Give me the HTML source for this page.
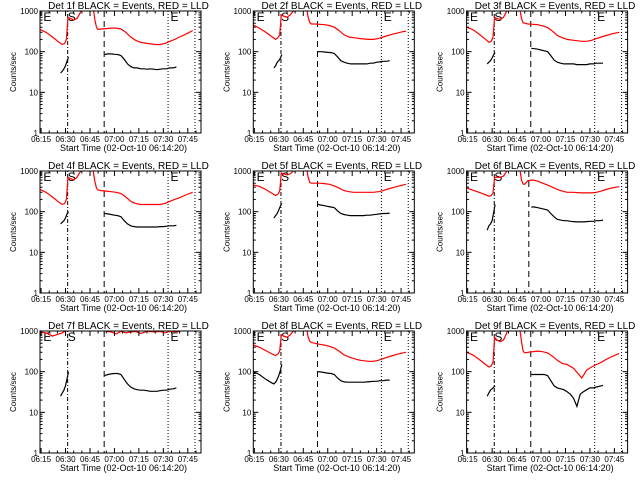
<!DOCTYPE html>
<html><head><meta charset="utf-8">
<style>
html,body{margin:0;padding:0;background:#fff;}
svg{display:block;font-family:"Liberation Sans",sans-serif;}
</style></head>
<body>
<svg id="chart" width="640" height="480" viewBox="0 0 640 480"></svg>
<script>
// time in minutes after 06:00
const detectorNames = ["1f","2f","3f","4f","5f","6f","7f","8f","9f"];
const redTimes1 = [14.4,18,22,26,28,29.5,30.5,31.5,33,35,37,39,41,46,47,48,49,50,52,55,58,61,64,67,70,73,76,80,85,88,91,94,97,100,103,106,108];
const redVals = [
 [350,300,230,170,150,160,200,700,650,600,650,900,3000,3000,1200,600,400,350,360,370,380,380,360,300,230,190,170,160,150,150,160,180,200,230,260,300,330],
 [450,380,300,230,200,220,260,800,750,700,800,1000,3000,3000,1200,700,520,480,480,470,460,440,400,330,260,230,220,210,200,200,210,230,250,270,290,310,320],
 [400,350,270,200,170,180,230,700,650,620,700,1000,3000,3000,1100,650,520,500,480,470,460,430,390,320,250,220,200,190,180,180,190,210,230,250,270,290,300],
 [350,300,230,170,150,160,200,700,650,600,700,950,3000,3000,1000,550,380,340,330,320,310,300,280,230,180,160,150,150,150,150,160,180,200,220,250,280,300],
 [450,420,350,280,250,270,320,900,850,800,850,1000,3000,3000,1200,700,520,500,500,500,490,470,430,380,330,310,300,300,300,300,310,330,360,390,420,450,470],
 [380,340,300,260,240,250,290,700,700,700,750,1000,3000,3000,1100,600,480,470,580,600,560,500,450,400,350,320,300,300,290,290,290,300,320,350,380,400,410],
 [950,900,750,850,900,980,1100,2000,2000,2000,2000,2000,3000,3000,3000,2000,2000,2000,2000,980,950,850,980,900,950,980,870,980,950,980,900,980,960,980,2000,2000,2000],
 [450,400,330,270,250,270,320,800,750,700,800,1000,3000,3000,1200,700,560,520,500,470,450,420,380,320,260,230,210,190,180,180,190,210,230,250,270,290,300],
 [300,260,200,150,130,140,170,700,600,550,600,900,3000,3000,1100,550,320,290,300,310,320,310,290,240,190,160,150,120,70,110,130,150,170,200,230,260,280]
];
const blackEarlyTimes = [14.4,18,22,26,27,28,29,30,31,31.8];
const blackEarlyVals = [
 [null,null,null,null,30,33,38,45,60,75],
 [null,null,null,null,40,45,55,60,70,85],
 [null,null,null,null,50,55,60,70,85,95],
 [null,null,null,null,50,55,60,70,90,100],
 [null,null,null,null,70,80,90,110,140,160],
 [null,null,null,null,35,45,50,60,100,150],
 [null,null,null,null,25,30,35,45,70,100],
 [100,85,65,52,50,55,65,80,110,150],
 [null,null,null,null,25,30,35,38,42,45]
];
const blackLateTimes = [54,56,58,60,62,64,66,68,70,72,74,76,78,80,82,84,86,88,90,92,94,96,98];
const blackLateVals = [
 [85,88,88,86,85,80,65,50,43,40,40,38,38,37,38,37,36,37,38,38,40,40,42],
 [100,100,98,96,95,90,75,60,55,52,50,50,50,50,50,50,52,52,55,56,58,58,60],
 [120,118,115,110,105,100,80,62,55,52,50,50,50,50,48,48,48,48,50,50,52,52,52],
 [90,88,85,82,80,75,60,50,45,43,42,42,42,42,42,42,42,43,43,44,45,45,46],
 [150,145,140,135,130,125,105,90,85,82,80,80,80,80,80,82,82,84,86,88,90,90,92],
 [130,130,125,120,115,110,90,75,65,62,60,60,58,57,56,56,56,57,58,58,60,60,62],
 [80,85,88,90,90,85,65,50,42,38,36,35,35,34,33,33,33,34,35,35,37,38,40],
 [100,98,95,92,90,85,70,60,56,55,55,55,55,55,55,56,57,58,58,60,60,62,62],
 [85,85,85,85,85,80,60,45,40,38,36,32,28,22,14,28,32,36,40,40,42,44,46]
];
const xTickLabels = ["06:15","06:30","06:45","07:00","07:15","07:30","07:45"];
const xTickTimes = [15,30,45,60,75,90,105];
const yTickLabels = ["1","10","100","1000"];
const yTickVals = [1,10,100,1000];

const NS="http://www.w3.org/2000/svg";
const svg=document.getElementById('chart');
const L=40,R=201,T=11,B=133,T0=14.333,PXM=1.63,DEC=40.67;
function xs(t){return L+(t-T0)*PXM;}
function ys(v){return T+(3-Math.log10(v))*DEC;}
function mk(tag,attrs,parent){const e=document.createElementNS(NS,tag);for(const k in attrs)e.setAttribute(k,attrs[k]);parent.appendChild(e);return e;}

for(let p=0;p<9;p++){
  const ox=(p%3)*213.3, oy=Math.floor(p/3)*160;
  const g=mk('g',{transform:`translate(${ox.toFixed(1)},${oy})`},svg);
  
  
  const cp=mk('clipPath',{id:'c'+p},g); mk('rect',{x:L,y:T,width:R-L,height:B-T},cp);
  const tt=mk('text',{x:(L+R)/2+8,y:9,'text-anchor':'middle','font-size':'10'},g);
  tt.textContent=`Det ${detectorNames[p]} BLACK = Events, RED = LLD`;
  
  
  const vl=[[31.3,'1,2,4,2'],[p==5?52.5:53.7,'6,4'],[92.9,'1,2'],[109.4,'1,2']];
  vl.forEach(v=>{const l=mk('line',{x1:xs(v[0]),x2:xs(v[0]),y1:T,y2:B,stroke:'#000','stroke-width':1,'stroke-dasharray':v[1]},g);
    
    });
  [['E',17],['S',32],['E',95]].forEach(m=>{const t=mk('text',{x:xs(m[1])-1,y:T+10,'font-size':'12'},g);t.textContent=m[0];
    
    });
  const red=redTimes1.map((t,i)=>xs(t).toFixed(1)+','+ys(redVals[p][i]).toFixed(1)).join(' ');
  const rl=mk('polyline',{points:red,fill:'none',stroke:'#ff0000','stroke-width':1.2,'clip-path':`url(#c${p})`},g);
  
  
  const be=[];blackEarlyTimes.forEach((t,i)=>{const v=blackEarlyVals[p][i];if(v!=null)be.push(xs(t).toFixed(1)+','+ys(v).toFixed(1));});
  const b1=mk('polyline',{points:be.join(' '),fill:'none',stroke:'#000','stroke-width':1.2},g);
  
  
  const bl=blackLateTimes.map((t,i)=>xs(t).toFixed(1)+','+ys(blackLateVals[p][i]).toFixed(1)).join(' ');
  const b2=mk('polyline',{points:bl,fill:'none',stroke:'#000','stroke-width':1.2},g);
  
  
  const fr=mk('rect',{x:L,y:T,width:R-L,height:B-T,fill:'none',stroke:'#000','stroke-width':1},g);
  
  
  yTickVals.forEach((v,i)=>{const y=ys(v);
    mk('line',{x1:L,x2:L+5,y1:y,y2:y,stroke:'#000'},g);mk('line',{x1:R-5,x2:R,y1:y,y2:y,stroke:'#000'},g);
    const t=mk('text',{x:L-2,y:y+3,'text-anchor':'end','font-size':'8'},g);t.textContent=yTickLabels[i];
    
    
    if(v<1000)for(let m=2;m<10;m++){const yy=ys(v*m);mk('line',{x1:L,x2:L+2.5,y1:yy,y2:yy,stroke:'#000'},g);mk('line',{x1:R-2.5,x2:R,y1:yy,y2:yy,stroke:'#000'},g);}
  });
  xTickTimes.forEach((tm,i)=>{const x=xs(tm);
    mk('line',{x1:x,x2:x,y1:B,y2:B-5,stroke:'#000'},g);mk('line',{x1:x,x2:x,y1:T,y2:T+5,stroke:'#000'},g);
    const t=mk('text',{x:x,y:B+9,'text-anchor':'middle','font-size':'8'},g);t.textContent=xTickLabels[i];
    
    
  });
  for(let tm=20;tm<=110;tm+=5){if(tm%15){const x=xs(tm);mk('line',{x1:x,x2:x,y1:B,y2:B-2.5,stroke:'#000'},g);mk('line',{x1:x,x2:x,y1:T,y2:T+2.5,stroke:'#000'},g);}}
  const xt=mk('text',{x:(L+R)/2+3,y:B+18,'text-anchor':'middle','font-size':'9'},g);
  xt.textContent='Start Time (02-Oct-10 06:14:20)';
  
  
  const yt=mk('text',{x:0,y:0,'text-anchor':'middle','font-size':'8',transform:`translate(16,${(T+B)/2}) rotate(-90)`},g);
  yt.textContent='Counts/sec';
  
  
}
</script>
</body></html>
